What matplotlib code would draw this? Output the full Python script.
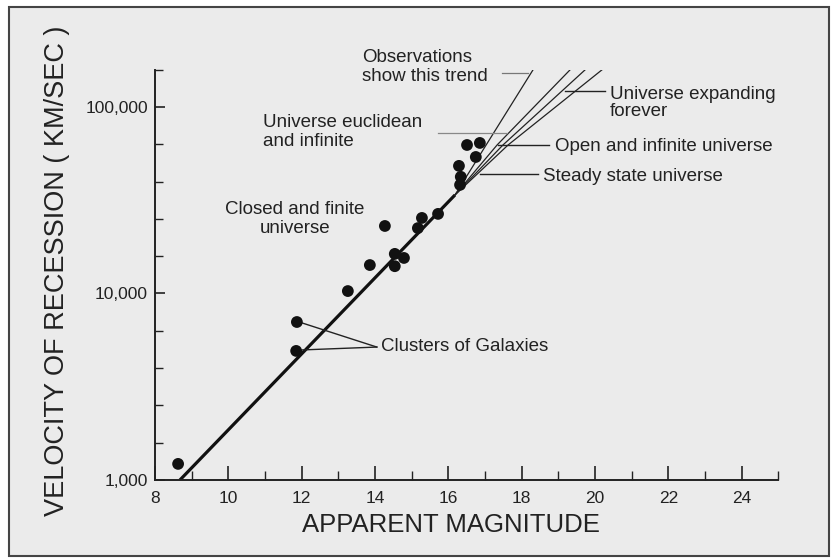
import matplotlib
matplotlib.use('Agg')
import matplotlib.pyplot as plt
from matplotlib.patches import Rectangle

plt.rcParams['font.family'] = ['Liberation Sans', 'DejaVu Sans']

# ---- data ----
galaxy_mag = [8.63, 11.87, 11.85, 13.26, 13.86, 14.27, 14.54, 14.54, 14.79,
              15.17, 15.28, 15.72, 16.32, 16.34, 16.29, 16.51, 16.86, 16.75]
galaxy_vel = [1220, 7030, 4920, 10300, 14200, 23000, 16300, 14000, 15500,
              22400, 25400, 26700, 38200, 42200, 48300, 62500, 64100, 53900]

trunk_mag = [8.68, 16.18]
trunk_vel = [1000, 33700]

observed_mag = [16.18, 18.31]
observed_vel = [33700, 158000]
euclidean_mag = [16.18, 17.33, 19.32]
euclidean_vel = [33700, 62500, 158000]
open_mag = [16.18, 17.49, 19.73]
open_vel = [33700, 62500, 158000]
steady_mag = [16.18, 17.63, 20.19]
steady_vel = [33700, 62500, 158000]

x_major = [8, 10, 12, 14, 16, 18, 20, 22, 24]
x_minor = [9, 11, 13, 15, 17, 19, 21, 23, 25]
y_major = [1000, 10000, 100000]
y_major_labels = ['1,000', '10,000', '100,000']
y_minor_exp = [3.2, 3.4, 3.6, 3.8, 4.2, 4.4, 4.6, 4.8, 5.2]

fig = plt.figure(figsize=(8.33, 5.59), dpi=100, facecolor='white')
W, H = 833, 559
bg = Rectangle((9 / W, 1 - 556 / H), 820 / W, 549 / H,
               transform=fig.transFigure, facecolor='#ebebeb',
               edgecolor='#444444', lw=1.5, zorder=-10)
fig.add_artist(bg)

ax = fig.add_axes([155 / W, 1 - 480 / H, (778.3 - 155) / W, (480 - 69.6) / H])
ax.set_zorder(5)
ax.patch.set_alpha(0)
ax.set_yscale('log')
ax.set_xlim(8, 25)
ax.set_ylim(1000, 10 ** 5.2)

for s in ['top', 'right']:
    ax.spines[s].set_visible(False)
for s in ['left', 'bottom']:
    ax.spines[s].set_linewidth(1.4)
    ax.spines[s].set_color('#222222')

ax.set_xticks(x_major)
ax.set_xticks(x_minor, minor=True)
ax.set_xticklabels([str(v) for v in x_major])
ax.set_yticks(y_major)
ax.set_yticklabels(y_major_labels)
ax.set_yticks([10 ** e for e in y_minor_exp], minor=True)
ax.yaxis.set_minor_formatter(plt.NullFormatter())
ax.tick_params(axis='x', which='major', direction='in', length=10, width=1.2,
               labelsize=12.5, pad=8, colors='#222222')
ax.tick_params(axis='x', which='minor', direction='in', length=6.5, width=1.0,
               colors='#222222')
ax.tick_params(axis='y', which='major', direction='in', length=7.5, width=1.2,
               labelsize=12.5, pad=5, colors='#222222')
ax.tick_params(axis='y', which='minor', direction='in', length=5.5, width=1.0,
               colors='#222222')

ax.set_xlabel('APPARENT MAGNITUDE', fontsize=18.5, color='#222222')
ax.xaxis.label.set_verticalalignment('center')
ax.xaxis.set_label_coords((451 - 155) / 623.3, -(525 - 480) / 410.4)
ax.set_ylabel('VELOCITY OF RECESSION ( KM/SEC )', fontsize=19.5,
              color='#222222')
ax.yaxis.label.set_verticalalignment('center')
ax.yaxis.set_label_coords((57 - 155) / 623.3, (480 - 271) / 410.4)

# lines
ax.plot(trunk_mag, trunk_vel, color='#111111', lw=2.3, solid_capstyle='butt')
for m, v in [(observed_mag, observed_vel), (euclidean_mag, euclidean_vel),
             (open_mag, open_vel), (steady_mag, steady_vel)]:
    ax.plot(m, v, color='#222222', lw=0.9)

ax.scatter(galaxy_mag, galaxy_vel, s=72, color='#111111', zorder=5,
           edgecolors='none')

# leaders
lc = '#222222'
ax.plot([17.46, 18.17], [152000, 152000], color='#777777', lw=0.9)
ax.plot([15.72, 17.60], [72600, 72600], color='#888888', lw=0.9)
ax.plot([19.18, 20.27], [122000, 122000], color=lc, lw=1.0)
ax.plot([17.35, 18.74], [62500, 62500], color=lc, lw=1.0)
ax.plot([16.86, 18.44], [43700, 43700], color=lc, lw=1.0)
ax.plot([12.01, 14.05], [6950, 5160], color=lc, lw=1.0)
ax.plot([12.01, 14.05], [4980, 5160], color=lc, lw=1.0)

fs = 13.5
tc = '#222222'
ax.text(13.645, 10 ** 5.214, 'Observations\nshow this trend', fontsize=fs,
        ha='left', va='center', linespacing=1.15, color=tc)
ax.text(10.945, 10 ** 4.863, 'Universe euclidean\nand infinite', fontsize=fs,
        ha='left', va='center', linespacing=1.15, color=tc)
ax.text(11.82, 10 ** 4.399, 'Closed and finite\nuniverse', fontsize=fs,
        ha='center', va='center', multialignment='center', linespacing=1.2,
        color=tc)
ax.text(20.41, 10 ** 5.019, 'Universe expanding\nforever', fontsize=fs,
        ha='left', va='center', linespacing=1.0, color=tc)
ax.text(18.91, 10 ** 4.786, 'Open and infinite universe', fontsize=fs,
        ha='left', va='center', color=tc)
ax.text(18.58, 10 ** 4.625, 'Steady state universe', fontsize=fs,
        ha='left', va='center', color=tc)
ax.text(14.16, 10 ** 3.713, 'Clusters of Galaxies', fontsize=fs,
        ha='left', va='center', color=tc)

fig.savefig('out.png', dpi=100, facecolor=fig.get_facecolor())
